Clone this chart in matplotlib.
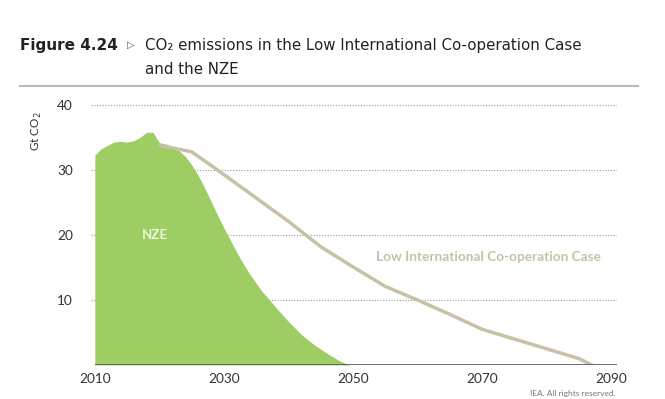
import matplotlib
matplotlib.use('Agg')
import matplotlib.pyplot as plt

# NZE emissions (Gt CO2)
nze_years = [2010, 2011, 2012, 2013, 2014, 2015, 2016, 2017, 2018, 2019, 2020,
             2021, 2022, 2023, 2024, 2025, 2026, 2027, 2028, 2029, 2030,
             2031, 2032, 2033, 2034, 2035, 2036, 2037, 2038, 2039, 2040,
             2042, 2044, 2046, 2048, 2049.5]
nze_vals = [32.3, 33.3, 33.8, 34.3, 34.4, 34.3, 34.5, 35.0, 35.8, 35.8, 34.2,
            34.0, 33.6, 33.0, 32.1, 30.8, 29.2, 27.3, 25.2, 23.1, 21.1,
            19.2, 17.3, 15.6, 14.0, 12.6, 11.2, 10.1, 8.9, 7.8, 6.7,
            4.7, 3.1, 1.8, 0.6, 0.0]

# Low International Co-operation Case
lic_years = [2020, 2025, 2029, 2035, 2040, 2045, 2050, 2055, 2060, 2065, 2070,
             2075, 2080, 2085, 2087]
lic_vals = [33.8, 32.8, 30.0, 25.7, 22.1, 18.2, 15.1, 12.1, 10.0, 7.8, 5.5,
            4.0, 2.5, 1.0, 0.0]

xticks = [2010, 2030, 2050, 2070, 2090]
yticks = [10, 20, 30, 40]

green = '#9dcd63'
khaki = '#c8c1a8'

fig = plt.figure(figsize=(6.65, 3.99), dpi=100)
ax = fig.add_axes([0.1368, 0.0852, 0.7917, 0.668])

ax.fill_between(nze_years, nze_vals, 0, color=green, lw=0)
ax.plot(lic_years, lic_vals, color=khaki, lw=2.5, solid_capstyle='round')

for y in yticks:
    ax.axhline(y, color='#9a9a9a', lw=0.8, ls=(0, (1, 1.5)), zorder=0)
ax.hlines(0, 2010, 2091, color='#555555', lw=1.2)

ax.set_xlim(2009.4, 2091)
ax.set_ylim(0, 41)
ax.set_xticks(xticks)
ax.set_yticks(yticks)
for s in ax.spines.values():
    s.set_visible(False)
ax.tick_params(length=0, labelsize=9.8, colors='#333333', pad=6)
ax.tick_params(axis='y', pad=13)
for lab in ax.get_xticklabels() + ax.get_yticklabels():
    lab.set_fontfamily('Lato')

ax.text(2019.3, 20, 'NZE', color='#eef5e0', fontsize=9.5, fontweight='bold',
        ha='center', va='center', family='Lato')
ax.text(2071.0, 16.6, 'Low International Co-operation Case', color=khaki,
        fontsize=9.8, fontweight='bold', ha='center', va='center', family='Lato')

fig.text(0.055, 0.67, 'Gt CO$_2$', rotation=90, ha='center', va='center',
         fontsize=8.5, color='#333333', family='Lato')

fig.text(0.030, 0.887, 'Figure 4.24', fontsize=11, fontweight='bold',
         color='#222222', va='center')
fig.text(0.191, 0.887, '\u25b7', fontsize=7, color='#555555', va='center')
fig.text(0.218, 0.887, 'CO\u2082 emissions in the Low International Co-operation Case',
         fontsize=10.8, color='#222222', va='center', family='DejaVu Sans')
fig.text(0.218, 0.825, 'and the NZE', fontsize=10.8, color='#222222', va='center')
fig.add_artist(plt.Line2D([0.030, 0.960], [0.784, 0.784], color='#bbbbbb', lw=1.5))

fig.text(0.862, 0.004, 'IEA. All rights reserved.', fontsize=6, color='#777777',
         ha='center', va='bottom', family='Lato')

fig.savefig('out.png', dpi=100)
